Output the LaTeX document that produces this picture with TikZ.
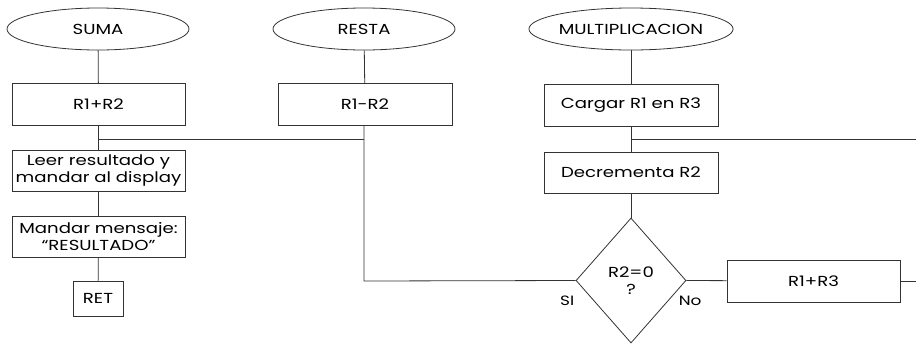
\documentclass[tikz,border=0pt]{standalone}
\usepackage{fontspec}
\setmainfont{Poppins}[FakeStretch=1.25]
\usetikzlibrary{shapes.geometric,positioning}

\begin{document}
\begin{tikzpicture}[
  x=1pt, y=-1pt,
  line width=0.8pt, draw=black!80,
  every node/.style={font=\fontsize{14.5}{17.5}\selectfont, text=black},
  start/.style={draw, ellipse, minimum width=182pt, minimum height=42pt, inner sep=0pt},
  box/.style={draw, rectangle, minimum width=173pt, minimum height=42pt,
              inner sep=0pt, align=center},
  cond/.style={draw, diamond, minimum width=110pt, minimum height=125pt,
               inner sep=0pt, align=center},
  lbl/.style={font=\fontsize{13.5}{15}\selectfont, inner sep=1pt},
  link/.style={black!80},
]
\useasboundingbox (0,0) rectangle (916,349);
% Columna 1: suma
\node[start] (suma) at (98,29) {SUMA};
\node[box] (sumR) at (98.5,104.5) {R1+R2};
\node[box, minimum height=41pt] (leer) at (98.5,170.5)
  {Leer resultado y\\mandar al display};
\node[box, minimum height=41pt] (msg) at (98.5,236.5)
  {Mandar mensaje:\\``RESULTADO''};
\node[box, minimum width=50pt, minimum height=35pt] (ret) at (98,298.5) {RET};
% Columna 2: resta
\node[start] (resta) at (364,29) {RESTA};
\node[box, minimum width=174pt] (resR) at (365,104.5) {R1-R2};
% Columna 3: multiplicacion
\node[start, minimum width=184pt] (mult) at (631,29) {MULTIPLICACION};
\node[box, minimum width=174pt] (carga) at (631,105.5) {Cargar R1 en R3};
\node[box, minimum width=174pt, minimum height=41pt] (decr) at (631,172.5)
  {Decrementa R2};
\node[cond] (cero) at (631,280.5) {R2=0\\?};
\node[box] (sumR3) at (813.5,281) {R1+R3};
\node[lbl, anchor=east] (si) at ([yshift=-20pt]cero.west) {SI};
\node[lbl, anchor=west] (no) at ([xshift=-9pt, yshift=-20pt]cero.east) {No};

% Puntos de union
\coordinate (j1) at (98,139);
\coordinate (j2) at (364,139);
\coordinate (j3) at (364,281);
\coordinate (j4) at (631,139);
\coordinate (fin1) at (916,139);
\coordinate (fin2) at (916,281);

% Lineas
\draw[link] (suma) -- (sumR);
\draw[link] (sumR) -- (leer);
\draw[link] (leer) -- (msg);
\draw[link] (msg) -- (ret);
\draw[link] (j1) -- (j2);
\draw[link] (resta) -- (resR);
\draw[link] (resR.south -| j2) -- (j3) -- (cero.west);
\draw[link] (mult) -- (carga);
\draw[link] (carga) -- (decr);
\draw[link] (j4) -- (fin1);
\draw[link] (decr) -- (cero);
\draw[link] (cero.east) -- (sumR3);
\draw[link] (sumR3) -- (fin2);
\end{tikzpicture}
\end{document}
